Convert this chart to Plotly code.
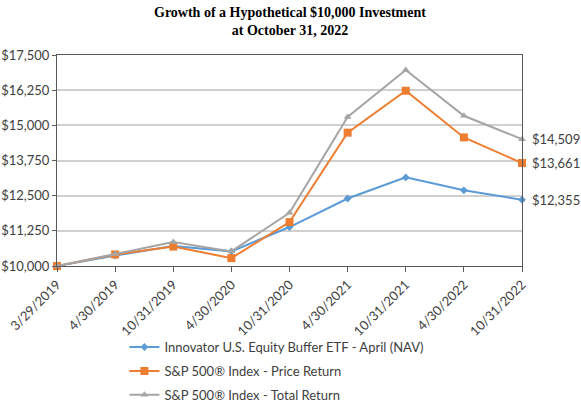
import plotly.graph_objects as go

dates = ["3/29/2019", "4/30/2019", "10/31/2019", "4/30/2020", "10/31/2020",
         "4/30/2021", "10/31/2021", "4/30/2022", "10/31/2022"]
etf_nav = [10000, 10370, 10710, 10520, 11385, 12400, 13150, 12690, 12355]
sp_price = [10000, 10410, 10690, 10280, 11560, 14740, 16230, 14570, 13661]
sp_total = [10000, 10430, 10850, 10520, 11890, 15300, 16970, 15340, 14509]

names = ["Innovator U.S. Equity Buffer ETF - April (NAV)",
         "S&P 500® Index - Price Return",
         "S&P 500® Index - Total Return"]
colors = ["#5B9BD5", "#ED7D31", "#A5A5A5"]
symbols = ["diamond", "square", "triangle-up"]
msizes = [6, 8, 7]

FONT = "Lato"
fig = go.Figure()
for i, (vals, name) in enumerate(zip([etf_nav, sp_price, sp_total], names)):
    fig.add_trace(go.Scatter(
        x=dates, y=vals, name=name, mode="lines+markers",
        line=dict(color=colors[i], width=2),
        marker=dict(symbol=symbols[i], size=msizes[i], color=colors[i]),
        legendgroup=f"g{i}", cliponaxis=False,
    ))

for vals in [etf_nav, sp_price, sp_total]:
    fig.add_annotation(x=1, xref="paper", y=vals[-1], yref="y",
                       text=f"${vals[-1]:,}", showarrow=False,
                       xanchor="left", xshift=8,
                       font=dict(family=FONT, size=13, color="#404040"))

fig.add_annotation(x=0.5, xref="paper", y=1, yref="paper", yanchor="bottom",
                   yshift=15, showarrow=False,
                   text="<b>Growth of a Hypothetical $10,000 Investment<br>at October 31, 2022</b>",
                   font=dict(family="Liberation Serif", size=14, color="black"))

fig.update_layout(
    width=581, height=402,
    margin=dict(l=57, r=59, t=55, b=136),
    paper_bgcolor="white", plot_bgcolor="white",
    font=dict(family=FONT, size=13, color="#404040"),
    showlegend=True,
    legend=dict(x=0.145, xanchor="left", yref="container", y=0.174, yanchor="top",
                font=dict(family=FONT, size=13, color="#404040"),
                tracegroupgap=4, bgcolor="rgba(0,0,0,0)"),
    xaxis=dict(type="category", range=[0, 8], showgrid=False, automargin=False,
               showline=True, linecolor="#595959", linewidth=1, mirror=True,
               ticks="outside", ticklen=5, tickcolor="#595959",
               tickangle=-45, tickfont=dict(size=13)),
    yaxis=dict(range=[10000, 17500], dtick=1250, tickformat="$,.0f", automargin=False,
               showgrid=True, gridcolor="#D0D0D0", gridwidth=1.5,
               showline=True, linecolor="#595959", linewidth=1, mirror=True,
               ticks="outside", ticklen=4, tickcolor="#595959",
               tickfont=dict(size=13), zeroline=False),
)
fig.write_html("out.html", config={"displayModeBar": False},
               post_script="document.body.style.margin='0';"
                           "document.documentElement.style.overflow='hidden';")
